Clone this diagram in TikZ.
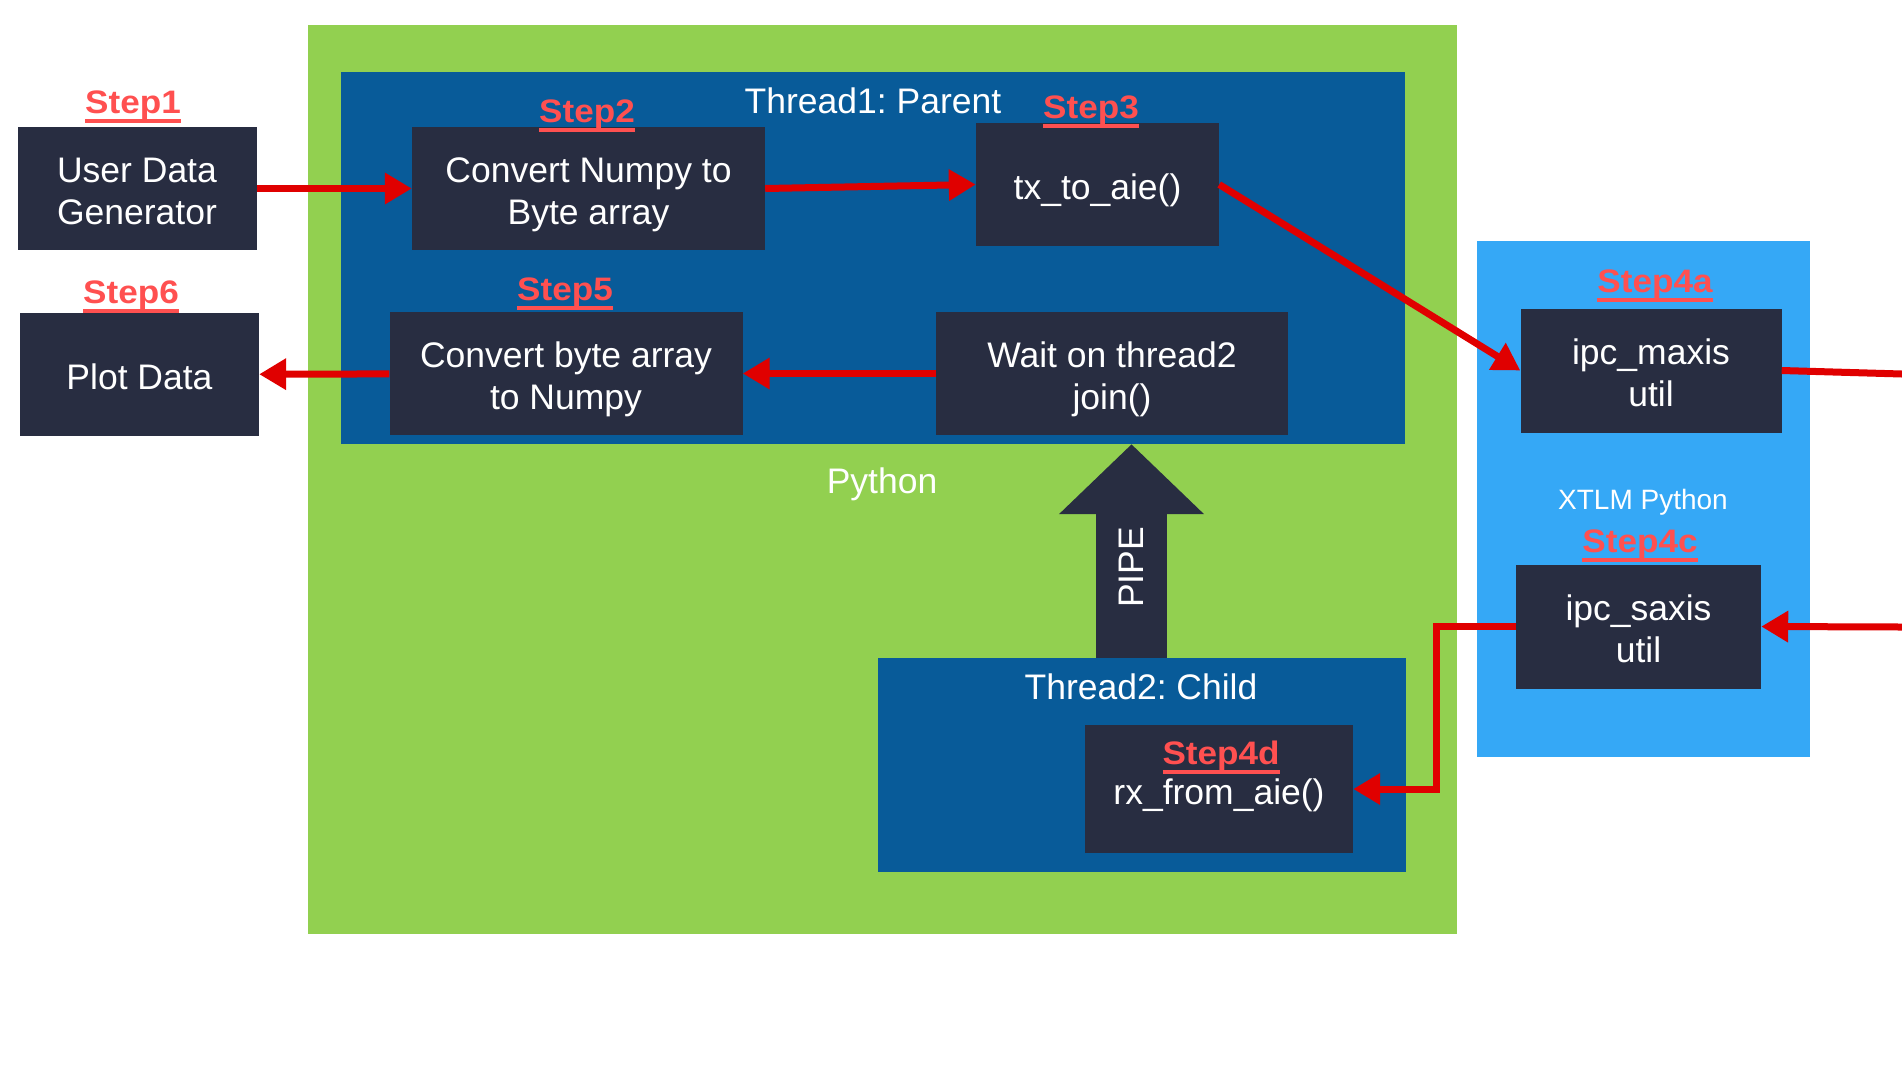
\documentclass[tikz,border=0pt]{standalone}
\usepackage{fontspec}
\setmainfont{Liberation Sans}
\newfontfamily\stepfont[FakeStretch=1.08]{Liberation Sans Bold}
\frenchspacing
\usetikzlibrary{arrows.meta}
\definecolor{pygreen}{RGB}{146,208,80}
\definecolor{threadblue}{RGB}{8,91,153}
\definecolor{xtlmblue}{RGB}{53,168,246}
\definecolor{boxgray}{RGB}{40,45,65}
\definecolor{arrowred}{RGB}{224,0,0}
\definecolor{stepred}{RGB}{255,80,80}
\newcommand{\stepul}[1]{\setbox0=\hbox{#1}\rlap{\rule[-10pt]{\wd0}{4pt}}\box0}
\newcommand{\fntop}{\rule{0pt}{43pt}}
\newcommand{\fnbot}{\rule[-13pt]{0pt}{13pt}}
\newcommand{\fnone}{\rule[-13pt]{0pt}{56pt}}
\tikzset{
    region/.style={rectangle, inner sep=0pt, draw=none},
    fnbox/.style={rectangle, fill=boxgray, text=white, inner sep=0pt, align=center, font=\fontsize{35.5}{42.5}\selectfont},
    steplbl/.style={anchor=base, text=stepred, inner sep=0pt, font=\stepfont\fontsize{32.5}{40}\selectfont},
    plainlbl/.style={anchor=base, text=white, inner sep=0pt, font=\fontsize{35.5}{42.5}\selectfont},
    flow/.style={draw=arrowred, line width=7pt, -{Triangle[length=27pt, width=30pt]}},
    pipearrow/.style={draw=boxgray, line width=71pt, -{Triangle[length=70pt, width=141pt]}},
}
\begin{document}
\begin{tikzpicture}[x=1pt, y=-1pt]
    \fill[white] (0,0) rectangle (1902,1080);
    \useasboundingbox (0,0) rectangle (1902,1080);
    % containers
    \node[region, fill=pygreen, minimum width=1149pt, minimum height=909pt] (python) at (882.5,479.5) {};
    \node[region, fill=threadblue, minimum width=1064pt, minimum height=372pt] (t1) at (873,258) {};
    \node[region, fill=threadblue, minimum width=528pt, minimum height=214pt] (t2) at (1142,765) {};
    \node[region, fill=xtlmblue, minimum width=333pt, minimum height=516pt] (xtlm) at (1643,499) {};
    \coordinate (pipex) at (1131.5,0);
    \draw[pipearrow] (pipex |- t2.north) -- (pipex |- t1.south);
    \node[plainlbl, rotate=90, anchor=center] (pipelbl) at (1131.5,567.5) {PIPE};
    % function boxes
    \node[fnbox, minimum width=239pt, minimum height=123pt] (udg) at (137,188.5) {\fntop User Data\\\fnbot Generator};
    \node[fnbox, minimum width=239pt, minimum height=123pt] (plot) at (139.5,374.5) {\fnone Plot Data};
    \node[fnbox, minimum width=353pt, minimum height=123pt] (cnb) at (588.5,188.5) {\fntop Convert Numpy to\\\fnbot Byte array};
    \node[fnbox, minimum width=243pt, minimum height=123pt] (tx) at (1097.5,184.5) {\fnone tx\_to\_aie()};
    \node[fnbox, minimum width=353pt, minimum height=123pt] (cba) at (566,373.5) {\fntop Convert byte array\\\fnbot to Numpy};
    \node[fnbox, minimum width=352pt, minimum height=123pt] (wait) at (1112,373.5) {\fntop Wait on thread2\\\fnbot join()};
    \node[fnbox, minimum width=261pt, minimum height=124pt] (maxis) at (1651,370.5) {\fntop ipc\_maxis\\\fnbot util};
    \node[fnbox, minimum width=245pt, minimum height=124pt] (saxis) at (1638.5,626.5) {\fntop ipc\_saxis\\\fnbot util};
    \node[fnbox, minimum width=268pt, minimum height=128pt] (rx) at (1219,789) {\fnone rx\_from\_aie()};
    % labels
    \node[plainlbl] (t1lbl) at (873,113) {Thread1: Parent};
    \node[plainlbl] (pylbl) at (882,493) {Python};
    \node[plainlbl] (t2lbl) at (1141,699) {Thread2: Child};
    \node[plainlbl, font=\fontsize{28}{34}\selectfont] (xtlmlbl) at (1643,509) {XTLM Python};
    \node[steplbl] (s1) at (133,113) {\stepul{Step1}};
    \node[steplbl] (s2) at (587,122) {\stepul{Step2}};
    \node[steplbl] (s3) at (1091,118) {\stepul{Step3}};
    \node[steplbl] (s4a) at (1655,292) {\stepul{Step4a}};
    \node[steplbl] (s4c) at (1640,552) {\stepul{Step4c}};
    \node[steplbl] (s4d) at (1221,764) {\stepul{Step4d}};
    \node[steplbl] (s5) at (565,300) {\stepul{Step5}};
    \node[steplbl] (s6) at (131,303) {\stepul{Step6}};
    % data flow
    \coordinate (outR) at (1902,374);
    \coordinate (inR) at (1902,627);
    \draw[flow] (udg) -- (cnb);
    \draw[flow] (cnb.east) -- (tx.west);
    \draw[flow] (tx.east) -- (maxis.west);
    \draw[flow, -] (maxis.east) -- (outR);
    \draw[flow] (inR) -- (saxis.east);
    \draw[flow] (saxis.west) -- ++(-79,0) |- (rx.east);
    \draw[flow] (wait) -- (cba);
    \draw[flow] (cba) -- (plot);
\end{tikzpicture}
\end{document}
